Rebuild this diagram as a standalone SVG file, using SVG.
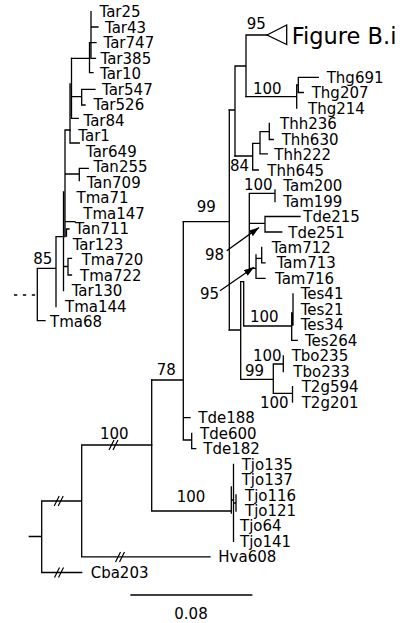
<svg xmlns="http://www.w3.org/2000/svg" width="400" height="623" viewBox="0 0 400 623">
<style>
.t{font-family:"DejaVu Sans","Liberation Sans",sans-serif;font-size:15px;fill:#000}
.big{font-size:22.5px}
.e{stroke:#000;stroke-width:1.3;fill:none;stroke-linecap:square}
.a{stroke:#000;stroke-width:1.3;fill:none}
</style>
<defs>
<marker id="ah" viewBox="0 0 10 7" refX="10" refY="3.5" markerWidth="10" markerHeight="7" markerUnits="userSpaceOnUse" orient="auto">
<path d="M0,0 L10,3.5 L0,7 z" fill="#000"/>
</marker>
<path id="brk" d="M-5,5 L0,-5 M-1,5 L4,-5" stroke="#000" stroke-width="1.2" fill="none"/>
</defs>
<rect width="400" height="623" fill="#fff"/>

<g id="connectors">
<!-- left tree -->
<path class="e" d="M91,11.7 V58.3 M89.5,42.7 V72.7 H93 M91,27 H98 M89.5,42.7 H96 M91,58.3 H95.5 M71.5,58.3 H89.5"/>
<path class="e" d="M71.5,58.3 V118.3 M70,84 V143 M71.5,96.7 H81.7 M81.7,89.3 V105 M81.7,89.3 H95 M81.7,105 H85 M71.5,118.3 H78.3 M70,143 H79.3"/>
<path class="e" d="M65,130 H70 M65,130 V236.7 M63.5,192 V290.7 M65,174 H79.3 M79.3,168.3 V180.7 M79.3,168.3 H88.3 M65,221.7 H75 M69,229 H66.5 V236 M64,266.5 H68 M68,258.3 V275 M68,258.3 H71.5 M68,275 H71.5"/>
<path class="e" d="M56,236.7 H64 M56,236.7 V306.7 M37.3,268.3 H56 M37.3,268.3 V320.7 H45"/>
<line x1="14" y1="295" x2="37.3" y2="295" stroke="#000" stroke-width="1.3" stroke-dasharray="3.3,5.6"/>

<!-- right tree: upper -->
<path class="e" d="M246,35 H267 M246,35 V96.7 M235,66 H246 M235,66 V156 M229.3,110 H235"/>
<polygon points="267,35 286.7,25 286.7,44.5" fill="none" stroke="#000" stroke-width="1.3"/>
<path class="e" d="M246,96.7 H296.7 M296.7,85 V108.2 M296.7,85 H298.3 M298.3,77.3 V92.5 M298.3,77.3 H318.3 M298.3,92.5 H303.3"/>
<path class="e" d="M235,156 H252.7 M252.7,143.3 V170 H258.3 M252.7,143.3 H260 M260,131.7 V153.8 H267.3 M260,131.7 H269.3 M269.3,123.5 V139.5 H273.3"/>
<!-- 99 main -->
<path class="e" d="M183.3,221.7 H229.3 M229.3,110 V330"/>
<path class="e" d="M249.3,193.3 H275 M275,190 V201.7 M249.3,193.3 V268.3 M249.3,223.3 H265 M265,216.5 V232 M265,216.5 H300 M265,232 H281.7 M249.3,268.3 H256 M256,255 V278.4 H265 M256,258.3 H261.7 M261.7,247.5 V262.9 H265"/>
<path class="e" d="M229.3,330 H240.7 M240.7,281.7 V379.3 M240.7,281.7 H243.7 M243.7,281.7 V326 M243.7,326 H291.7 M291.7,313 V340.3 H297.3 M293,293.9 V325"/>
<path class="e" d="M240.7,379.3 H273.3 M273.3,364 V393.3 M273.3,364 H283.3 M283.3,355.8 V371.5 M273.3,393.3 H292.5 M292.5,386.7 V402.2"/>
<!-- 78 and Tde -->
<path class="e" d="M151.7,380 H183.3 M183.3,221.7 V440 M183.3,417.6 H190 M183.3,440 H191.7 M191.7,433.5 V448.6 H195.7"/>
<!-- Tjo -->
<path class="e" d="M151.7,380 V511 M151.7,511 H231.3 M231.3,487 V513 M231.3,500 H233.5 M233.5,464.5 V541.4 M233.5,503 H236 M236,495 V511"/>
<!-- root -->
<path class="e" d="M81.7,445 H151.7 M81.7,445 V556.9 M81.7,556.9 H210 M41.7,501 H81.7 M41.7,501 V572.5 M41.7,572.5 H81.7 M29.3,536.5 H41.7"/>
<use href="#brk" x="59.2" y="501"/>
<use href="#brk" x="59.5" y="572.5"/>
<use href="#brk" x="114" y="445"/>
<use href="#brk" x="120.5" y="556.9"/>
<!-- arrows -->
<line class="a" x1="226.7" y1="250.7" x2="259" y2="227.5" marker-end="url(#ah)"/>
<line class="a" x1="220" y1="290.7" x2="254" y2="267.3" marker-end="url(#ah)"/>
<!-- scale bar -->
<line class="e" x1="131" y1="595" x2="251.7" y2="595"/>
</g>

<g id="left-leaves" class="t">
<g id="n-Tar25"><text x="99.5" y="17.2">Tar25</text></g>
<g id="n-Tar43"><text x="105" y="32.7">Tar43</text></g>
<g id="n-Tar747"><text x="103.5" y="48.2">Tar747</text></g>
<g id="n-Tar385"><text x="100.5" y="63.7">Tar385</text></g>
<g id="n-Tar10"><text x="100" y="79.2">Tar10</text></g>
<g id="n-Tar547"><text x="102" y="94.7">Tar547</text></g>
<g id="n-Tar526"><text x="93.5" y="110.2">Tar526</text></g>
<g id="n-Tar84"><text x="83.5" y="125.7">Tar84</text></g>
<g id="n-Tar1"><text x="78.3" y="141.2">Tar1</text></g>
<g id="n-Tar649"><text x="86" y="156.7">Tar649</text></g>
<g id="n-Tan255"><text x="93.5" y="172.2">Tan255</text></g>
<g id="n-Tan709"><text x="86.7" y="187.7">Tan709</text></g>
<g id="n-Tma71"><text x="76.5" y="203.2">Tma71</text></g>
<g id="n-Tma147"><text x="83.3" y="218.7">Tma147</text></g>
<g id="n-Tan711"><text x="75" y="234.2">Tan711</text></g>
<g id="n-Tar123"><text x="72.7" y="249.7">Tar123</text></g>
<g id="n-Tma720"><text x="81.7" y="265.2">Tma720</text></g>
<g id="n-Tma722"><text x="80" y="280.7">Tma722</text></g>
<g id="n-Tar130"><text x="71.7" y="296.2">Tar130</text></g>
<g id="n-Tma144"><text x="65" y="311.7">Tma144</text></g>
<g id="n-Tma68"><text x="50" y="327.2">Tma68</text></g>
</g>

<g id="right-leaves" class="t">
<g id="n-FigureBi"><text class="t big" x="291.7" y="44.3">Figure B.i</text></g>
<g id="n-Thg691"><text x="326.7" y="82.8">Thg691</text></g>
<g id="n-Thg207"><text x="311.7" y="98.3">Thg207</text></g>
<g id="n-Thg214"><text x="308" y="113.7">Thg214</text></g>
<g id="n-Thh236"><text x="280" y="129.2">Thh236</text></g>
<g id="n-Thh630"><text x="281.7" y="144.7">Thh630</text></g>
<g id="n-Thh222"><text x="274.3" y="160.2">Thh222</text></g>
<g id="n-Thh645"><text x="267.3" y="175.6">Thh645</text></g>
<g id="n-Tam200"><text x="283.3" y="191.1">Tam200</text></g>
<g id="n-Tam199"><text x="283.3" y="206.6">Tam199</text></g>
<g id="n-Tde215"><text x="303.3" y="222">Tde215</text></g>
<g id="n-Tde251"><text x="288.3" y="237.5">Tde251</text></g>
<g id="n-Tam712"><text x="271.7" y="253">Tam712</text></g>
<g id="n-Tam713"><text x="276.7" y="268.4">Tam713</text></g>
<g id="n-Tam716"><text x="275" y="283.9">Tam716</text></g>
<g id="n-Tes41"><text x="300.7" y="299.4">Tes41</text></g>
<g id="n-Tes21"><text x="300.7" y="314.9">Tes21</text></g>
<g id="n-Tes34"><text x="300.7" y="330.3">Tes34</text></g>
<g id="n-Tes264"><text x="305" y="345.8">Tes264</text></g>
<g id="n-Tbo235"><text x="291.7" y="361.3">Tbo235</text></g>
<g id="n-Tbo233"><text x="293.3" y="376.7">Tbo233</text></g>
<g id="n-T2g594"><text x="301.7" y="392.2">T2g594</text></g>
<g id="n-T2g201"><text x="301.7" y="407.7">T2g201</text></g>
<g id="n-Tde188"><text x="198.3" y="423.1">Tde188</text></g>
<g id="n-Tde600"><text x="200" y="438.6">Tde600</text></g>
<g id="n-Tde182"><text x="203.3" y="454.1">Tde182</text></g>
<g id="n-Tjo135"><text x="241.7" y="469.5">Tjo135</text></g>
<g id="n-Tjo137"><text x="241.7" y="485">Tjo137</text></g>
<g id="n-Tjo116"><text x="245" y="500.5">Tjo116</text></g>
<g id="n-Tjo121"><text x="245" y="516">Tjo121</text></g>
<g id="n-Tjo64"><text x="240" y="531.4">Tjo64</text></g>
<g id="n-Tjo141"><text x="240" y="546.9">Tjo141</text></g>
<g id="n-Hva608"><text x="218.3" y="562.4">Hva608</text></g>
<g id="n-Cba203"><text x="90.7" y="577.8">Cba203</text></g>
</g>

<g id="support-labels" class="t">
<text x="246.7" y="28.5">95</text>
<text x="253" y="93.5">100</text>
<text x="230" y="170.5">84</text>
<text x="244" y="189.5">100</text>
<text x="196.7" y="212.2">99</text>
<text x="205" y="259.5">98</text>
<text x="200" y="298.8">95</text>
<text x="250" y="322.2">100</text>
<text x="253" y="360.5">100</text>
<text x="245" y="375.5">99</text>
<text x="260" y="408.2">100</text>
<text x="156.7" y="374.8">78</text>
<text x="100" y="438.5">100</text>
<text x="176.7" y="502.2">100</text>
<text x="33.3" y="263.8">85</text>
</g>

<g id="scale" class="t">
<text x="191" y="619" text-anchor="middle">0.08</text>
</g>
</svg>
